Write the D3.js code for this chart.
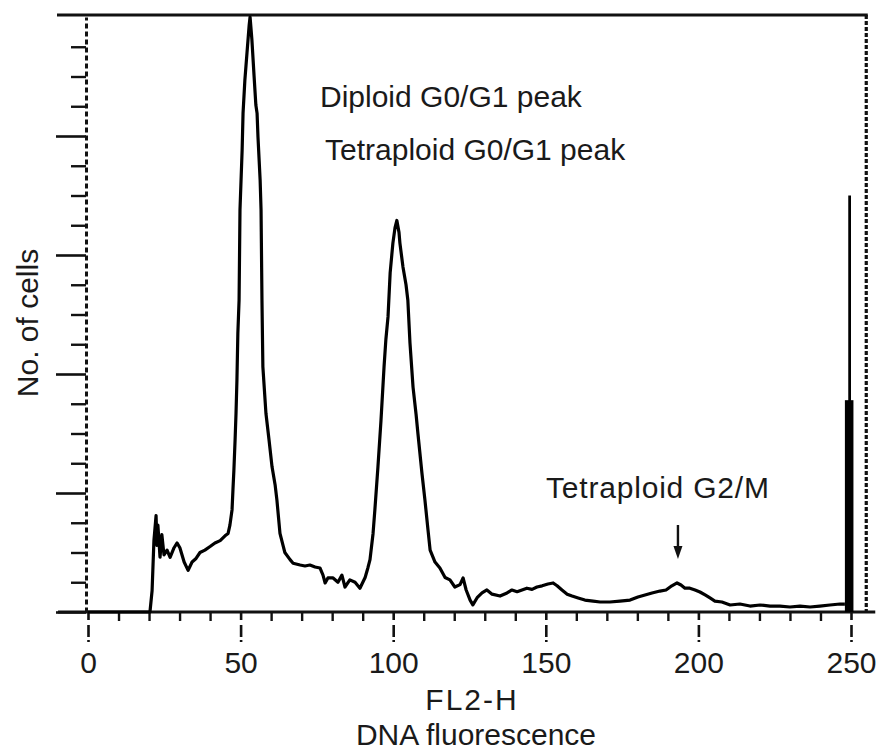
<!DOCTYPE html>
<html>
<head>
<meta charset="utf-8">
<script src="https://cdn.jsdelivr.net/npm/d3@7"></script>
<style>
	body { margin: 0; background: #fff; }
	text { font-family: "Liberation Sans", Arial, sans-serif; fill: #1a1a1a; }
</style>
</head>
<body>
<div id="chartgoeshere"></div>
<script>
// DNA content histogram (FL2-H)

// Histogram trace: channel and cell count
var channels = [
	0, 20.3, 21, 21.6, 22.3, 22.6, 22.9, 23.6, 24.2, 24.9,
	25.9, 26.9, 28.2, 29.2, 30.1, 31.5, 32.8, 34.1, 35.4, 36.7,
	38.3, 40, 41.6, 43.3, 44.9, 45.9, 46.5, 47.2, 47.5, 47.8,
	48.2, 48.5, 48.8, 49.1, 49.5, 49.8, 50.5, 50.8, 51.4, 52.1,
	52.8, 53.1, 53.7, 54.4, 55, 55.4, 55.7, 56.4, 56.7, 57,
	57.3, 58.3, 59.3, 60.3, 61.3, 61.9, 62.9, 63.9, 64.5, 66.2,
	67.2, 69.5, 71.1, 72.7, 74.4, 76, 77, 77.7, 78.6, 80.3,
	81.9, 83.2, 84.2, 85.8, 87.5, 89.1, 90.8, 91.7, 92.4, 93.4,
	94, 95, 96, 97, 97.6, 98.3, 99, 99.9, 100.6, 101.2,
	101.9, 102.2, 103.2, 104.2, 104.8, 105.5, 106.5, 107.5, 108.1, 109.4,
	110.4, 111.4, 112.1, 113.7, 115.3, 117, 118.6, 120.2, 121.9, 122.9,
	123.9, 125.2, 126.1, 127.5, 129.1, 130.7, 132.4, 135, 137.3, 138.9,
	140.6, 142.2, 143.8, 145.5, 147.1, 148.8, 150.7, 152.4, 153.7, 155.3,
	157, 158.6, 160.6, 162.8, 165.5, 167.8, 171, 174.3, 177.6, 180.2,
	182.5, 184.8, 187.4, 189.4, 191.3, 193, 194.3, 195.6, 197.2, 198.9,
	200.5, 202.2, 203.8, 205.4, 207.7, 210.4, 213.6, 216.9, 220.2, 223.5,
	226.7, 230, 233.3, 236.6, 239.8, 243.1, 246.4, 248
];
var counts = [
	0, 0, 18, 60, 81, 56, 73, 46, 65, 48,
	52, 46, 54, 58, 54, 42, 35, 42, 45, 50,
	52, 55, 58, 60, 64, 66, 73, 86, 103, 119,
	145, 167, 195, 234, 262, 338, 388, 419, 447, 470,
	493, 500, 481, 451, 426, 419, 399, 363, 338, 262,
	206, 167, 145, 122, 107, 94, 66, 56, 50, 44,
	41, 39.5, 38.7, 39.5, 37.8, 37, 31, 24.4, 28.6, 28.6,
	25, 31, 21, 27, 25, 20, 29, 37, 44, 66,
	86, 122, 161, 206, 229, 248, 285, 310, 323, 329,
	319, 310, 290, 275, 262, 226, 189, 166, 150, 117,
	94, 69, 52, 42, 37, 29, 27, 21, 23, 28.6,
	18.5, 10, 6, 12, 16, 18.5, 15, 13.4, 16, 18.5,
	17, 18.5, 20, 19, 21, 22, 23.5, 24.4, 22, 18.5,
	15, 13.4, 11.8, 10, 9.2, 8.4, 8.4, 9.2, 10, 12.6,
	14.3, 16, 17.6, 18.5, 22, 24.4, 22.7, 20, 20, 18.5,
	16.8, 14.3, 11.8, 9.2, 8.4, 5.9, 6.7, 5, 5.9, 5,
	5, 4.2, 5, 4.2, 5, 5.9, 6.7, 6.7
];

// Off-scale events piled up in the last channels
var overflowStart = [248, 249.1];
var overflowEnd = [250.8, 250];
var overflowCounts = [178, 350];

// Axis ticks
var xMajorTicks = [0, 50, 100, 150, 200, 250];
var xMinorTicks = [10, 20, 30, 40, 60, 70, 80, 90, 110, 120, 130, 140, 160, 170, 180, 190, 210, 220, 230, 240];
var yMajorTicks = [0, 100, 200, 300, 400];
var yMinorTicks = [25, 50, 75, 125, 150, 175, 225, 250, 275, 325, 350, 375, 425, 450, 475];

// Annotations
var peakLabels = ["Diploid G0/G1 peak", "Tetraploid G0/G1 peak"];
var g2mLabel = "Tetraploid G2/M";
var g2mChannel = 193.3;

// Set chart size
var margin = {
		top: 15,
		right: 34,
		bottom: 140,
		left: 88
	},
	width = 763,
	height = 597;

var x = d3.scaleLinear()
	.domain([0, 250])
	.range([0, width]);

var y = d3.scaleLinear()
	.domain([0, 500])
	.range([height, 2]);

var svg = d3.select("#chartgoeshere")
	.append("svg")
	.attr("width", 885)
	.attr("height", 752)
	.append("g")
	.attr("transform", "translate(" + margin.left + "," + margin.top + ")");

// Frame: top solid, right dashed
svg.append("line")
	.attr("x1", -31).attr("x2", x(255.5))
	.attr("y1", 0).attr("y2", 0)
	.attr("stroke", "#111").attr("stroke-width", 3);

svg.append("line")
	.attr("x1", x(255)).attr("x2", x(255))
	.attr("y1", 0).attr("y2", height)
	.attr("stroke", "#111").attr("stroke-width", 3.2)
	.attr("stroke-dasharray", "4,2");

// Bottom axis line
svg.append("line")
	.attr("x1", -30).attr("x2", x(255) + 9)
	.attr("y1", height).attr("y2", height)
	.attr("stroke", "#111").attr("stroke-width", 3);

// X axis: major ticks with labels
var xMajor = svg.append("g")
	.attr("transform", "translate(0," + height + ")")
	.call(d3.axisBottom(x)
		.tickValues(xMajorTicks)
		.tickSize(30)
		.tickPadding(10)
		.tickSizeOuter(0));
xMajor.select(".domain").remove();
xMajor.selectAll("line")
	.attr("stroke", "#111").attr("stroke-width", 2.6)
	.attr("stroke-dasharray", "8,5,12,3");
xMajor.selectAll("text")
	.attr("font-size", 30)
	.style("font-family", "'Liberation Sans', Arial, sans-serif")
	.attr("fill", "#1a1a1a");

// X axis: minor ticks
var xMinor = svg.append("g")
	.attr("transform", "translate(0," + height + ")")
	.call(d3.axisBottom(x)
		.tickValues(xMinorTicks)
		.tickSize(9)
		.tickFormat(""));
xMinor.select(".domain").remove();
xMinor.selectAll("line").attr("stroke", "#111").attr("stroke-width", 2.4);

// Y axis: dashed spine with major ticks
var yMajor = svg.append("g")
	.attr("transform", "translate(-2,0)")
	.call(d3.axisLeft(y)
		.tickValues(yMajorTicks)
		.tickSize(30)
		.tickSizeOuter(0)
		.tickFormat(""));
yMajor.select(".domain")
	.attr("stroke", "#111").attr("stroke-width", 3)
	.attr("stroke-dasharray", "5,3");
yMajor.selectAll("line").attr("stroke", "#111").attr("stroke-width", 2.6);

// Y axis: minor ticks
var yMinor = svg.append("g")
	.attr("transform", "translate(-2,0)")
	.call(d3.axisLeft(y)
		.tickValues(yMinorTicks)
		.tickSize(15)
		.tickFormat(""));
yMinor.select(".domain").remove();
yMinor.selectAll("line").attr("stroke", "#111").attr("stroke-width", 2.4);

// Histogram line
var line = d3.line()
	.x(function (d) { return x(d[0]); })
	.y(function (d) { return y(d[1]); });

svg.append("path")
	.datum(d3.zip(channels, counts))
	.attr("d", line)
	.attr("fill", "none")
	.attr("stroke", "#000")
	.attr("stroke-width", 3.2)
	.attr("stroke-linejoin", "round");

// Overflow spike
svg.selectAll(".overflow")
	.data(d3.range(overflowCounts.length))
	.enter()
	.append("rect")
	.attr("class", "overflow")
	.attr("x", function (i) { return x(overflowStart[i]); })
	.attr("width", function (i) { return x(overflowEnd[i]) - x(overflowStart[i]); })
	.attr("y", function (i) { return y(overflowCounts[i]); })
	.attr("height", function (i) { return y(0) - y(overflowCounts[i]); })
	.attr("fill", "#000");

// Peak annotations
svg.append("text")
	.attr("x", 320 - margin.left)
	.attr("y", 107 - margin.top)
	.attr("font-size", 30)
	.text(peakLabels[0]);

svg.append("text")
	.attr("x", 325 - margin.left)
	.attr("y", 160 - margin.top)
	.attr("font-size", 30)
	.text(peakLabels[1]);

svg.append("text")
	.attr("x", 546 - margin.left)
	.attr("y", 498 - margin.top)
	.attr("font-size", 30)
	.attr("letter-spacing", 0.8)
	.text(g2mLabel);

// Arrow to the G2/M bump
svg.append("line")
	.attr("x1", x(g2mChannel)).attr("x2", x(g2mChannel))
	.attr("y1", 525 - margin.top).attr("y2", 550 - margin.top)
	.attr("stroke", "#111").attr("stroke-width", 2.4);
svg.append("path")
	.attr("d", "M" + (x(g2mChannel) - 4.5) + "," + (546 - margin.top) +
		"L" + (x(g2mChannel) + 4.5) + "," + (546 - margin.top) +
		"L" + x(g2mChannel) + "," + (559 - margin.top) + "Z")
	.attr("fill", "#111");

// Axis titles
svg.append("text")
	.attr("transform", "translate(" + (38 - margin.left) + "," + (323 - margin.top) + ") rotate(-90)")
	.attr("text-anchor", "middle")
	.attr("font-size", 30)
	.text("No. of cells");

svg.append("text")
	.attr("x", 472 - margin.left)
	.attr("y", 710 - margin.top)
	.attr("text-anchor", "middle")
	.attr("font-size", 30)
	.attr("letter-spacing", 2)
	.text("FL2-H");

svg.append("text")
	.attr("x", 476 - margin.left)
	.attr("y", 745 - margin.top)
	.attr("text-anchor", "middle")
	.attr("font-size", 30)
	.text("DNA fluorescence");
</script>
</body>
</html>
